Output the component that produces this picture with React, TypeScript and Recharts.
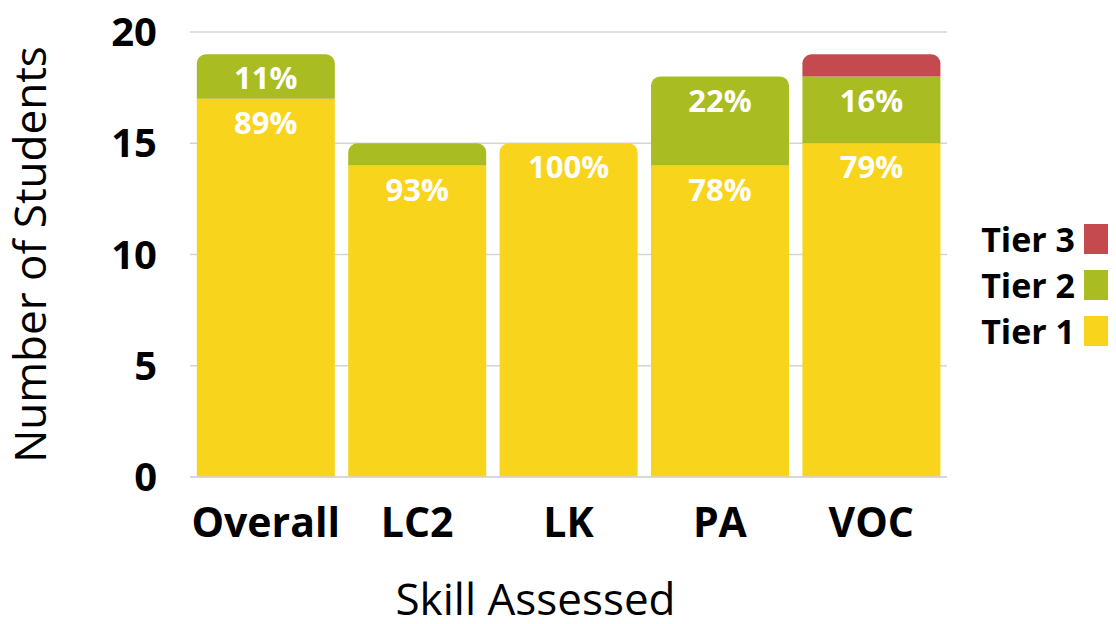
import React from "react";
import { BarChart, Bar, XAxis, YAxis, CartesianGrid, Legend, LabelList, Label, Rectangle } from "recharts";

const skills = ["Overall", "LC2", "LK", "PA", "VOC"];
const tier1 = [17, 14, 15, 14, 15];
const tier2 = [2, 1, 0, 4, 3];
const tier3 = [0, 0, 0, 0, 1];
const yTicks = [0, 5, 10, 15, 20];

const tiers = [
  { key: "tier1", name: "Tier 1", color: "#F9D41C" },
  { key: "tier2", name: "Tier 2", color: "#A9BC22" },
  { key: "tier3", name: "Tier 3", color: "#C54A4F" },
];

const data = skills.map((skill, i) => ({
  skill,
  tier1: tier1[i],
  tier2: tier2[i],
  tier3: tier3[i],
  total: tier1[i] + tier2[i] + tier3[i],
}));

// top-most non-zero segment of a stack gets the rounded corners
const topKey = (d: any) => (d.tier3 > 0 ? "tier3" : d.tier2 > 0 ? "tier2" : "tier1");

const makeShape = (key: string) => (props: any) => {
  const isTop = topKey(props.payload) === key;
  return <Rectangle {...props} radius={isTop ? [9, 9, 0, 0] : 0} />;
};

const makeLabel = (key: string) => (props: any) => {
  const { x, y, width, index } = props;
  const d = data[index];
  const v = (d as any)[key];
  // small segments are left without a label
  if (v < 2) return null;
  const pct = Math.round((v / d.total) * 100);
  return (
    <text
      x={x + width / 2}
      y={y + 13}
      dy="0.71em"
      textAnchor="middle"
      fill="#fff"
      fontFamily="'Open Sans', sans-serif"
      fontWeight={700}
      fontSize={31}
    >
      {pct}%
    </text>
  );
};

const LegendBox = () => (
  <div style={{ display: "flex", flexDirection: "column", gap: 12 }}>
    {[...tiers].reverse().map((t) => (
      <div key={t.key} style={{ display: "flex", alignItems: "center", justifyContent: "flex-end", height: 34 }}>
        <span style={{ fontFamily: "'Open Sans', sans-serif", fontWeight: 700, fontSize: 34, color: "#000", marginRight: 9 }}>
          {t.name}
        </span>
        <span style={{ display: "inline-block", width: 24, height: 30, background: t.color }} />
      </div>
    ))}
  </div>
);

export default function App() {
  return (
    <div style={{ width: 1116, height: 624, background: "#fff" }}>
      <style>{`body{margin:0}`}</style>
      <BarChart
        width={1116}
        height={624}
        data={data}
        margin={{ top: 32, right: 169, bottom: 0, left: 0 }}
        barCategoryGap="4.5%"
      >
        <CartesianGrid vertical={false} stroke="#d4d4d4" strokeWidth={1.5} />
        <XAxis
          dataKey="skill"
          height={147}
          tickLine={false}
          tickSize={0}
          tickMargin={31}
          axisLine={{ stroke: "#d4d4d4", strokeWidth: 1.5 }}
          tick={{ fill: "#000", fontFamily: "'Open Sans', sans-serif", fontWeight: 700, fontSize: 41 }}
          interval={0}
        >
          <Label
            value="Skill Assessed"
            position="insideBottom"
            offset={9}
            dx={-33}
            style={{ fill: "#000", fontFamily: "'Open Sans', sans-serif", fontWeight: 400, fontSize: 44 }}
          />
        </XAxis>
        <YAxis
          width={190}
          domain={[0, 20]}
          ticks={yTicks}
          tickLine={false}
          axisLine={false}
          tickSize={0}
          tickMargin={33}
          tick={{ fill: "#000", fontFamily: "'Open Sans', sans-serif", fontWeight: 700, fontSize: 40 }}
        >
          <Label
            value="Number of Students"
            angle={-90}
            position="insideLeft"
            offset={30}
            style={{ textAnchor: "middle", fill: "#000", fontFamily: "'Open Sans', sans-serif", fontWeight: 400, fontSize: 44 }}
          />
        </YAxis>
        <Legend
          layout="vertical"
          align="center"
          verticalAlign="middle"
          wrapperStyle={{ top: 222, right: 8, left: "auto", width: "auto" }}
          content={() => <LegendBox />}
        />
        {tiers.map((t) => (
          <Bar
            key={t.key}
            dataKey={t.key}
            name={t.name}
            stackId="a"
            fill={t.color}
            isAnimationActive={false}
            shape={makeShape(t.key)}
          >
            <LabelList dataKey={t.key} content={makeLabel(t.key)} />
          </Bar>
        ))}
      </BarChart>
    </div>
  );
}
